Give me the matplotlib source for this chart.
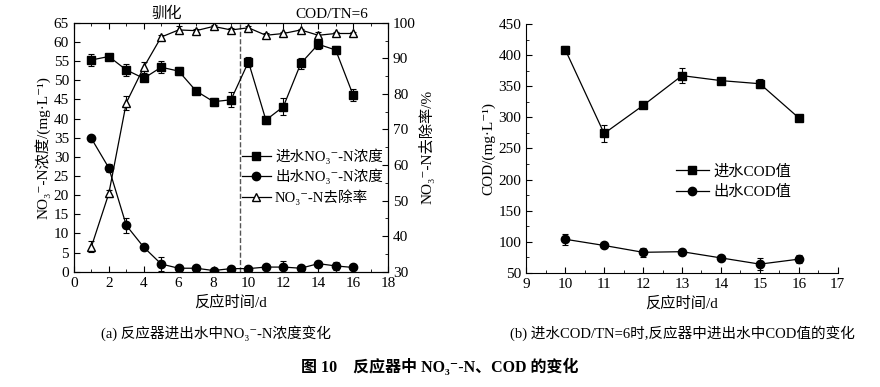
import numpy as np
import matplotlib
matplotlib.use("Agg")
import matplotlib.pyplot as plt
from matplotlib.ticker import MultipleLocator

plt.rcParams['font.family'] = ['Liberation Serif', 'Noto Sans CJK SC', 'DejaVu Serif']
plt.rcParams['font.size'] = 11

# (a) NO3--N
days = [1, 2, 3, 4, 5, 6, 7, 8, 9, 10, 11, 12, 13, 14, 15, 16]
no3_in = [55.3, 56.2, 52.7, 50.5, 53.4, 52.4, 47.2, 44.4, 44.9, 54.8, 39.6, 43.1, 54.4, 59.4, 57.9, 46.1]
no3_in_err = [1.5, 0.6, 1.5, 0.8, 1.5, 1.0, 0.5, 1.0, 2.0, 1.3, 1.0, 2.3, 1.5, 1.3, 1.0, 1.5]
no3_out = [34.8, 27.1, 12.1, 6.4, 2.0, 0.9, 0.9, 0.3, 0.8, 0.8, 1.2, 1.2, 0.9, 2.1, 1.5, 1.1]
no3_out_err = [0.5, 1.0, 2.0, 0.3, 1.8, 0.5, 0.5, 0.3, 0.8, 0.3, 0.5, 1.5, 0.5, 0.5, 1.0, 0.3]
removal = [37.0, 52.0, 77.5, 87.5, 96.0, 98.0, 97.8, 99.0, 98.0, 98.6, 96.5, 97.0, 98.0, 96.5, 97.0, 97.0]
removal_err = [1.5, 1.0, 2.0, 1.5, 0.5, 1.0, 0.5, 0.5, 0.5, 0.5, 0.5, 0.5, 0.3, 1.0, 0.5, 0.5]

# (b) COD
cod_days = [10, 11, 12, 13, 14, 15, 16]
cod_in = [409, 274, 319, 367, 359, 354, 299]
cod_in_err = [6, 13, 3, 12, 3, 7, 3]
cod_out = [104, 94, 83, 84, 74, 64, 72]
cod_out_err = [9, 3, 7, 5, 3, 10, 6]

fig = plt.figure(figsize=(8.8, 3.87), dpi=100)
ax1 = fig.add_axes([0.084, 0.298, 0.357, 0.643])
ax2 = ax1.twinx()
ax3 = fig.add_axes([0.598, 0.295, 0.354, 0.643])

ebk = dict(color='black', capsize=2.5, elinewidth=0.8, capthick=0.8, lw=0.9, ms=6)
l1 = ax1.errorbar(days, no3_in, yerr=no3_in_err, marker='s', mfc='black', mec='black', **ebk)
l2 = ax1.errorbar(days, no3_out, yerr=no3_out_err, marker='o', mfc='black', mec='black', **ebk)
l3 = ax2.errorbar(days, removal, yerr=removal_err, marker='^', mfc='white', mec='black', **ebk)
ax1.axvline(9.5, color='#555555', ls='--', lw=1.0)

ax1.set_xlim(0, 18)
ax1.set_ylim(0, 65)
ax2.set_ylim(30, 100)
ax1.xaxis.set_major_locator(MultipleLocator(2))
ax1.xaxis.set_minor_locator(MultipleLocator(1))
ax1.yaxis.set_major_locator(MultipleLocator(5))
ax2.yaxis.set_major_locator(MultipleLocator(10))
ax2.yaxis.set_minor_locator(MultipleLocator(5))
ax1.tick_params(which='both', direction='in', top=True)
ax1.tick_params(which='major', length=4)
ax1.tick_params(which='minor', length=2)
ax2.tick_params(which='both', direction='in')
ax2.tick_params(which='major', length=4)
ax2.tick_params(which='minor', length=2)
ax1.set_ylabel('NO₃⁻-N浓度/(mg·L⁻¹)', labelpad=2)
ax2.set_ylabel('NO₃⁻-N去除率/%', labelpad=2)
ax1.set_xlabel('反应时间/d', labelpad=4)
ax1.text(5.3, 65.6, '驯化', ha='center', va='bottom', fontsize=11)
ax1.text(14.8, 65.6, 'COD/TN=6', ha='center', va='bottom', fontsize=11)
ax1.legend([l1[0], l2[0], l3[0]], ['进水NO₃⁻-N浓度', '出水NO₃⁻-N浓度', 'NO₃⁻-N去除率'],
           loc='upper left', bbox_to_anchor=(0.515, 0.52), frameon=False,
           handlelength=2.0, handletextpad=0.3, labelspacing=0.35, borderaxespad=0,
           fontsize=10.5)

l4 = ax3.errorbar(cod_days, cod_in, yerr=cod_in_err, marker='s', mfc='black', mec='black', **ebk)
l5 = ax3.errorbar(cod_days, cod_out, yerr=cod_out_err, marker='o', mfc='black', mec='black', **ebk)
ax3.set_xlim(9, 17)
ax3.set_ylim(50, 450)
ax3.xaxis.set_major_locator(MultipleLocator(1))
ax3.xaxis.set_minor_locator(MultipleLocator(0.5))
ax3.yaxis.set_major_locator(MultipleLocator(50))
ax3.yaxis.set_minor_locator(MultipleLocator(25))
ax3.spines['top'].set_visible(False)
ax3.spines['right'].set_visible(False)
ax3.tick_params(which='both', direction='in')
ax3.tick_params(which='major', length=4)
ax3.tick_params(which='minor', length=2)
ax3.set_ylabel('COD/(mg·L⁻¹)', labelpad=2)
ax3.set_xlabel('反应时间/d', labelpad=4)
ax3.legend([l4[0], l5[0]], ['进水COD值', '出水COD值'],
           loc='upper left', bbox_to_anchor=(0.46, 0.46), frameon=False,
           handlelength=2.2, handletextpad=0.3, labelspacing=0.4, borderaxespad=0,
           fontsize=11)

fig.text(0.245, 0.14, '(a) 反应器进出水中NO₃⁻-N浓度变化', ha='center', va='center', fontsize=10.5)
fig.text(0.775, 0.14, '(b) 进水COD/TN=6时,反应器中进出水中COD值的变化', ha='center', va='center', fontsize=10.5)
fig.text(0.5, 0.05, '图 10    反应器中 NO₃⁻-N、COD 的变化', ha='center', va='center',
         fontsize=11.5, fontweight='bold')

fig.savefig('out.png', dpi=100)
